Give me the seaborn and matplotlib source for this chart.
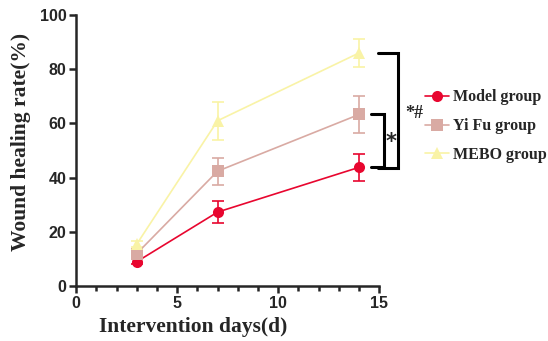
import numpy as np
import pandas as pd
import matplotlib
matplotlib.use("Agg")
import matplotlib.pyplot as plt
import seaborn as sns
from matplotlib.ticker import MultipleLocator

days = [3, 7, 14]
groups = ["Model group", "Yi Fu group", "MEBO group"]
model_mean = [9, 27.3, 43.8]
model_err = [1, 4, 5]
yifu_mean = [12, 42.4, 63.3]
yifu_err = [1, 5, 7]
mebo_mean = [15.5, 61, 86]
mebo_err = [1, 7, 5]
colors = ["#E8062F", "#D9AAA3", "#F9F3A6"]
markers = ["o", "s", "^"]

df = pd.DataFrame({
    "day": days * 3,
    "rate": model_mean + yifu_mean + mebo_mean,
    "err": model_err + yifu_err + mebo_err,
    "group": [g for g in groups for _ in days],
})

sns.set_style("ticks")
fig = plt.figure(figsize=(5.48, 3.41), dpi=100)
ax = fig.add_axes([0.139, 0.161, 0.553, 0.795])

for g, c in zip(groups, colors):
    d = df[df["group"] == g]
    ax.errorbar(d["day"], d["rate"], yerr=d["err"], fmt="none", ecolor=c,
                elinewidth=1.2, capsize=4, capthick=1.2, zorder=2)

sns.lineplot(data=df, x="day", y="rate", hue="group", style="group",
             palette=colors, markers=markers, dashes=False, markersize=8,
             markeredgewidth=0, linewidth=1.2, ax=ax, zorder=3)

ax.set_xlim(0, 15)
ax.set_ylim(0, 100)
ax.xaxis.set_major_locator(MultipleLocator(5))
ax.xaxis.set_minor_locator(MultipleLocator(1))
ax.yaxis.set_major_locator(MultipleLocator(20))
sns.despine(ax=ax)
for s in ["left", "bottom"]:
    ax.spines[s].set_linewidth(1.8)
ax.tick_params(axis="both", which="major", width=1.8, length=5, labelsize=11.5, pad=2)
ax.tick_params(axis="x", which="minor", width=1.8, length=3.5)
for lab in ax.get_xticklabels() + ax.get_yticklabels():
    lab.set_fontweight("bold")
    lab.set_family("Liberation Sans")

ax.set_xlabel("Intervention days(d)", family="Liberation Serif", fontweight="bold",
              fontsize=15.5)
ax.set_ylabel("Wound healing rate(%)", family="Liberation Serif", fontweight="bold",
              fontsize=15.5)
ax.xaxis.set_label_coords(0.386, -0.115)
ax.yaxis.set_label_coords(-0.15, 0.53)

# significance brackets
ax.plot([14.95, 15.95, 15.95, 14.95], [86, 86, 43.5, 43.5], color="black", lw=2.2,
        clip_on=False, solid_joinstyle="miter")
ax.plot([14.6, 15.25, 15.25, 14.6], [63.5, 63.5, 44, 44], color="black", lw=2.2,
        clip_on=False, solid_joinstyle="miter")
ax.text(15.6, 53, "*", fontsize=15, fontweight="bold", ha="center", va="center")
ax.text(16.75, 63.5, "*#", fontsize=13, fontweight="bold", ha="center", va="center",
        family="Liberation Serif")

leg = ax.legend(loc="center left", bbox_to_anchor=(1.15, 0.59), frameon=False,
                borderaxespad=0, borderpad=0,
                prop={"family": "Liberation Serif", "weight": "bold", "size": 11.5},
                handlelength=1.5, labelspacing=0.8, handletextpad=0.3)

fig.savefig("out.png", dpi=100)
